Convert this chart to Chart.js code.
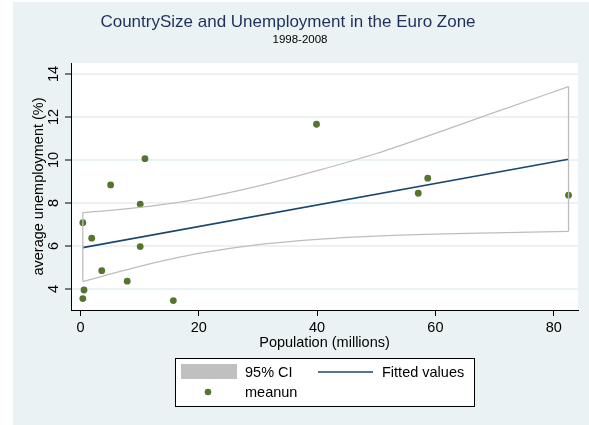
<!DOCTYPE html>
<html>
<head>
<meta charset="utf-8">
<script src="https://cdn.jsdelivr.net/npm/chart.js@4.4.3/dist/chart.umd.min.js"></script>
<style>
  html, body { margin: 0; padding: 0; background: #fff; }
  #wrap { width: 589px; height: 425px; position: relative; }
</style>
</head>
<body>
<div id="wrap"><canvas id="chart" width="589" height="425"></canvas></div>
<script>
// country population (millions) and mean unemployment 1998-2008 (%)
const population = [0.4, 1.9, 0.4, 0.6, 3.6, 5.1, 7.9, 10.1, 10.1, 10.9, 15.7, 39.9, 57.1, 58.7, 82.5];
const unemployment = [7.08, 6.36, 3.55, 3.95, 4.85, 8.84, 4.36, 7.94, 5.97, 10.06, 3.46, 11.66, 8.45, 9.15, 8.36];

// linear fit end points
const fitX = [0.4, 82.5];
const fitY = [5.92, 10.03];

// 95% confidence band of the fit
const bandX = [0.4, 5, 10, 15, 20, 30, 40, 50, 60, 70, 82.5];
const bandUpper = [7.55, 7.65, 7.79, 7.97, 8.19, 8.78, 9.5, 10.3, 11.24, 12.21, 13.41];
const bandLower = [4.34, 4.69, 5.05, 5.37, 5.65, 6.06, 6.31, 6.46, 6.55, 6.61, 6.68];

const xTicks = [0, 20, 40, 60, 80];
const yTicks = [4, 6, 8, 10, 12, 14];

const titleText = "CountrySize and Unemployment in the Euro Zone";
const subtitleText = "1998-2008";
const xTitle = "Population (millions)";
const yTitle = "average unemployment (%)";

const NAVY = "#1a476f";
const GREEN = "#55752f";
const BAND = "#bdbdbd";
const REGION = "#eaf2f3";
const FONT = "'Liberation Sans', Arial, sans-serif";

const pts = (xs, ys) => xs.map((x, i) => ({ x, y: ys[i] }));

// stata-like frame, titles, rotated y labels and the legend box
const decor = {
  id: "decor",
  beforeDraw(chart) {
    const { ctx, chartArea: a } = chart;
    ctx.save();
    ctx.fillStyle = "#fff";
    ctx.fillRect(0, 0, chart.width, chart.height);
    ctx.fillStyle = REGION;
    ctx.fillRect(13, 2, chart.width - 13, chart.height - 2);
    ctx.fillStyle = "#fff";
    ctx.fillRect(a.left, a.top, a.right - a.left, a.bottom - a.top);
    ctx.restore();
  },
  afterDraw(chart) {
    const { ctx, chartArea: a } = chart;
    const ys = chart.scales.y;
    ctx.save();
    ctx.textBaseline = "middle";
    ctx.textAlign = "center";

    ctx.fillStyle = "#1e2f5c";
    ctx.font = "17px " + FONT;
    ctx.fillText(titleText, 288, 22);
    ctx.fillStyle = "#000";
    ctx.font = "11.5px " + FONT;
    ctx.fillText(subtitleText, 300, 40);

    ctx.font = "14.5px " + FONT;
    ctx.fillText(xTitle, (a.left + a.right) / 2, 343);

    // y tick labels and title read bottom to top
    yTicks.forEach(v => {
      ctx.save();
      ctx.translate(54, ys.getPixelForValue(v));
      ctx.rotate(-Math.PI / 2);
      ctx.fillText(String(v), 0, 0);
      ctx.restore();
    });
    ctx.save();
    ctx.translate(39, (a.top + a.bottom) / 2);
    ctx.rotate(-Math.PI / 2);
    ctx.fillText(yTitle, 0, 0);
    ctx.restore();

    // legend
    ctx.fillStyle = "#fff";
    ctx.fillRect(175, 358, 299, 48);
    ctx.strokeStyle = "#000";
    ctx.lineWidth = 1;
    ctx.strokeRect(175.5, 358.5, 299, 48);
    ctx.fillStyle = "#c0c0c0";
    ctx.fillRect(181, 364, 56, 15);
    ctx.strokeStyle = NAVY;
    ctx.lineWidth = 1.5;
    ctx.beginPath();
    ctx.moveTo(318, 372);
    ctx.lineTo(373, 372);
    ctx.stroke();
    ctx.fillStyle = GREEN;
    ctx.beginPath();
    ctx.arc(208, 392, 3.3, 0, Math.PI * 2);
    ctx.fill();
    ctx.fillStyle = "#000";
    ctx.textAlign = "left";
    ctx.fillText("95% CI", 245, 372.5);
    ctx.fillText("Fitted values", 382, 372.5);
    ctx.fillText("meanun", 245, 392.5);
    ctx.restore();
  }
};

const bandLine = {
  type: "scatter",
  showLine: true,
  borderColor: BAND,
  borderWidth: 1.3,
  pointRadius: 0,
  fill: false,
  cubicInterpolationMode: "monotone"
};

new Chart(document.getElementById("chart"), {
  type: "scatter",
  data: {
    datasets: [
      Object.assign({ data: pts(bandX, bandUpper) }, bandLine),
      Object.assign({ data: pts(bandX, bandLower) }, bandLine),
      Object.assign({}, bandLine, {
        data: [{ x: bandX[0], y: bandLower[0] }, { x: bandX[0], y: bandUpper[0] }],
        cubicInterpolationMode: "default", tension: 0
      }),
      Object.assign({}, bandLine, {
        data: [{ x: bandX[bandX.length - 1], y: bandLower[bandX.length - 1] },
               { x: bandX[bandX.length - 1], y: bandUpper[bandX.length - 1] }],
        cubicInterpolationMode: "default", tension: 0
      }),
      {
        type: "scatter",
        data: pts(fitX, fitY),
        showLine: true,
        borderColor: NAVY,
        borderWidth: 1.6,
        pointRadius: 0
      },
      {
        type: "scatter",
        data: pts(population, unemployment),
        backgroundColor: GREEN,
        borderColor: GREEN,
        borderWidth: 0,
        pointRadius: 3.4
      }
    ]
  },
  options: {
    responsive: false,
    animation: false,
    devicePixelRatio: 1,
    layout: { padding: { left: 0, right: 11, top: 63, bottom: 70 } },
    plugins: {
      legend: { display: false },
      tooltip: { enabled: false }
    },
    scales: {
      x: {
        type: "linear",
        min: -1.6,
        max: 84.1,
        afterBuildTicks: s => { s.ticks = xTicks.map(v => ({ value: v })); },
        afterFit: s => { s.height = 45; },
        ticks: { color: "#000", font: { family: FONT, size: 14.5 }, padding: 3 },
        grid: { drawOnChartArea: false, tickColor: "#000", tickLength: 6, tickWidth: 1 },
        border: { color: "#000", width: 1 }
      },
      y: {
        type: "linear",
        min: 3.02,
        max: 14.51,
        afterBuildTicks: s => { s.ticks = yTicks.map(v => ({ value: v })); },
        afterFit: s => { s.width = 71; },
        ticks: { display: false },
        grid: { color: REGION, lineWidth: 2, tickColor: "#000", tickLength: 6, tickWidth: 1 },
        border: { color: "#000", width: 1 }
      }
    }
  },
  plugins: [decor]
});
</script>
</body>
</html>
